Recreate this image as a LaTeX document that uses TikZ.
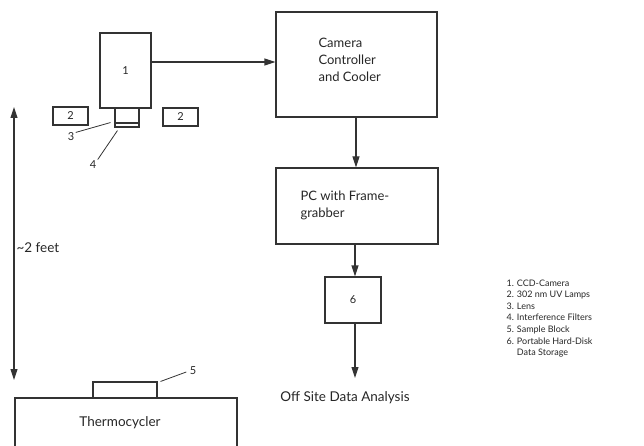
\documentclass[tikz,border=0pt]{standalone}
\usepackage{fontspec}
\setmainfont{Lato}
\usepackage{tikz}
\usetikzlibrary{positioning,calc,arrows.meta}

\begin{document}
\begin{tikzpicture}[x=1pt,y=-1pt,
    line width=1.1pt, draw=black!80, text=black!85,
    box/.style={draw, rectangle, inner sep=0pt},
    flow/.style={-{Triangle[length=11pt,width=7pt]}},
    lbl/.style={font=\fontsize{11}{13}\selectfont, inner sep=1pt}]
    \useasboundingbox (0,0) rectangle (644,446);
    \clip (0,0) rectangle (644,446);
    % Camera, lens, filters and lamps
    \node[box, minimum width=51pt, minimum height=75pt, lbl] (cam) at (125.5,70.5) {1};
    \node[box, minimum width=24pt, minimum height=15pt] (lens) at (127,115.5) {};
    \node[box, minimum width=24pt, minimum height=4pt] (filt) at (127,125) {};
    \node[box, minimum width=35pt, minimum height=18pt, lbl] (lampL) at (70.5,116) {2};
    \node[box, minimum width=35pt, minimum height=18pt, lbl] (lampR) at (180.5,117) {2};
    \node[lbl] (lensnum) at (71,137) {3};
    \node[lbl] (filtnum) at (93,165) {4};
    \draw[line width=0.8pt] (lensnum.north east) ++(0,1) -- ($(lens.south west)+(-4,-1)$);
    \draw[line width=0.8pt] (filtnum.north east) -- ($(filt.south west)+(3,3)$);
    % Controller chain
    \node[box, minimum width=161pt, minimum height=105pt] (ctrl) at (356.5,64.5) {};
    \node[anchor=north west, align=left, font=\fontsize{13}{17}\selectfont, inner sep=0pt] (ctrltext) at (318,38) {Camera\\Controller\\and Cooler};
    \node[box, minimum width=162pt, minimum height=76pt] (pc) at (357,206) {};
    \node[anchor=north west, align=left, font=\fontsize{13}{17}\selectfont, inner sep=0pt] (pctext) at (300,190) {PC with Frame-\\grabber};
    \node[box, minimum width=56pt, minimum height=46pt, lbl] (six) at (353,300) {6};
    \node[font=\fontsize{13.5}{16}\selectfont] (offsite) at (345,398) {Off Site Data Analysis};
    \coordinate (offend) at (355,378);
    \draw[flow] (cam.east |- 0,62) -- (ctrl.west |- 0,62);
    \draw[flow] (ctrl.south -| 356,0) -- (pc.north -| 356,0);
    \draw[flow] (pc.south -| 355,0) -- (six.north -| 355,0);
    \draw[flow] (six.south -| 355,0) -- (offend);
    % Distance to sample
    \coordinate (dimtop) at (14,107);
    \coordinate (dimbot) at (14,380);
    \draw[{Triangle[length=11pt,width=7pt]}-{Triangle[length=11pt,width=7pt]}] (dimtop) -- (dimbot);
    \node[anchor=west, font=\fontsize{13.5}{16}\selectfont, inner sep=1pt] (dist) at (15,248) {\textasciitilde2 feet};
    % Thermocycler and sample block
    \draw (15,460) -- (15,398) coordinate (thermo) -- (237,398) -- (237,460);
    \node[font=\fontsize{13.5}{16}\selectfont] (thermotext) at (120,423) {Thermocycler};
    \node[box, minimum width=64pt, minimum height=16pt] (sample) at (125,390) {};
    \node[lbl] (samplenum) at (193,371) {5};
    \draw[line width=0.8pt] (sample.north east) ++(3,0) -- ($(samplenum.west)+(-2,1)$);
    % Legend
    \node[anchor=north west, align=left, font=\fontsize{9}{11.6}\selectfont, inner sep=0pt] (legend) at (506,279)
        {1. CCD-Camera\\2. 302 nm UV Lamps\\3. Lens\\4. Interference Filters\\5. Sample Block\\6. Portable Hard-Disk\\\hphantom{6. }Data Storage};
\end{tikzpicture}
\end{document}
